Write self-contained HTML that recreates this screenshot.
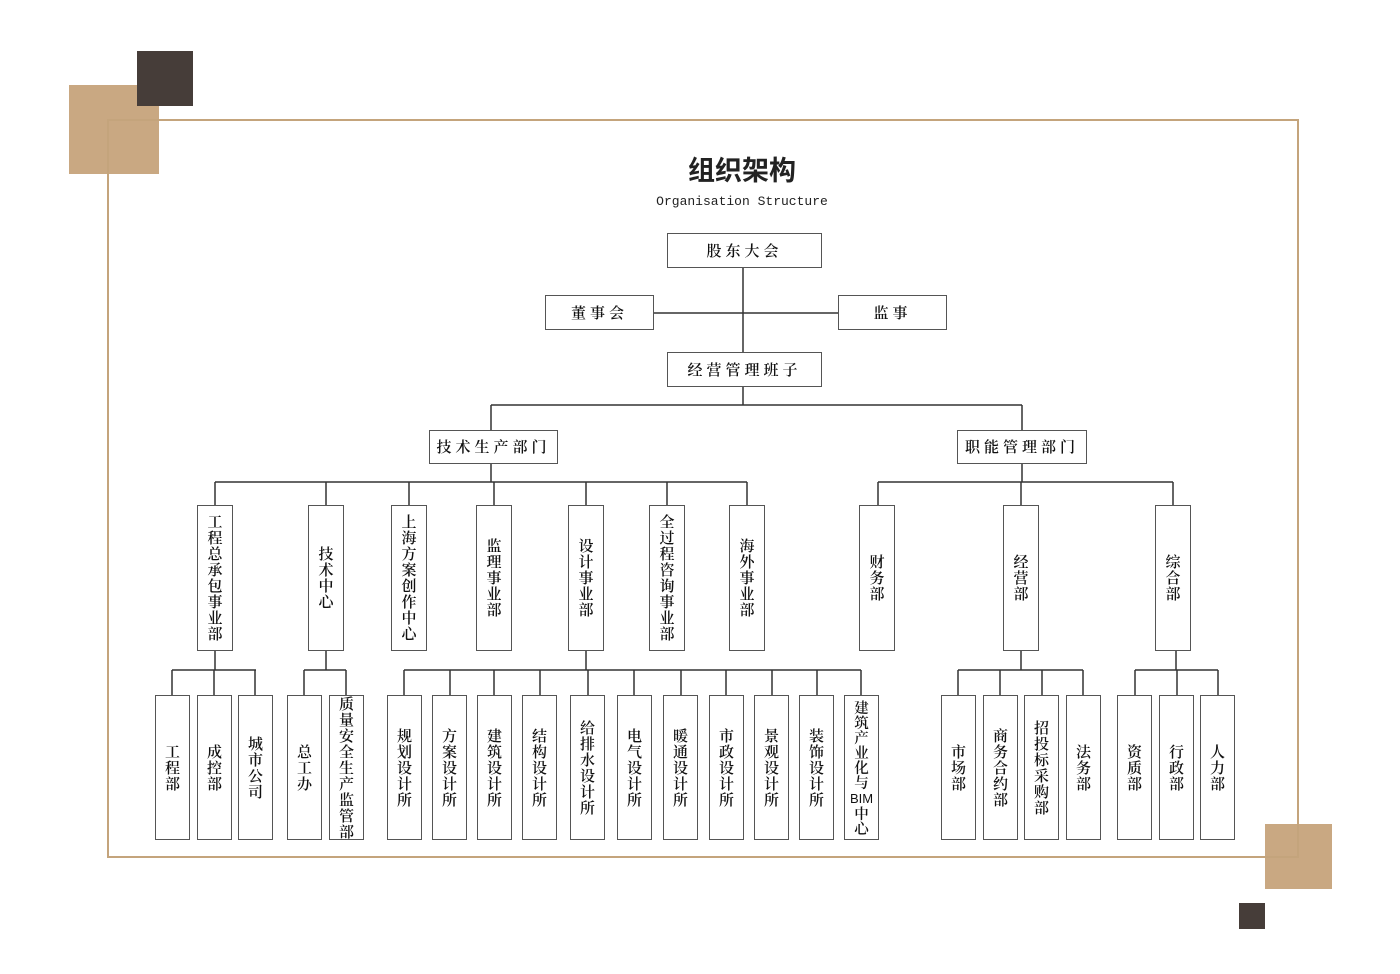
<!DOCTYPE html>
<html><head><meta charset="utf-8"><style>
html,body{margin:0;padding:0;background:#fff}
#c{position:relative;width:1400px;height:974px;overflow:hidden;background:#fff}
.b{position:absolute;box-sizing:border-box;border:1.5px solid #555;background:#fff;display:flex;align-items:center;justify-content:center;text-align:center;font-family:"Noto Serif CJK SC","Liberation Serif",serif;font-weight:600;font-size:15px;line-height:16px;color:#111}
.h{letter-spacing:4px;font-size:15px}
.v{width:36px;top:505px;height:146px}
.w{width:35px;top:695px;height:145px}
svg{position:absolute;left:0;top:0}
</style></head><body><div id="c">
<div style="position:absolute;left:69px;top:85px;width:90px;height:89px;background:#c9a882"></div>
<div style="position:absolute;left:137px;top:51px;width:56px;height:55px;background:#463d39"></div>
<div style="position:absolute;left:1265px;top:824px;width:67px;height:65px;background:#c9a882"></div>
<div style="position:absolute;left:1239px;top:903px;width:26px;height:26px;background:#463d39"></div>
<div style="position:absolute;left:107px;top:119px;width:1192px;height:739px;box-sizing:border-box;border:2px solid #c4a47c"></div>
<div style="position:absolute;left:542px;top:152px;width:400px;text-align:center;font-family:'Noto Sans CJK SC',sans-serif;font-weight:bold;font-size:27px;color:#222;line-height:34px">组织架构</div>
<div style="position:absolute;left:542px;top:194px;width:400px;text-align:center;font-family:'Liberation Mono',monospace;font-size:13px;color:#222;line-height:16px">Organisation Structure</div>
<svg width="1400" height="974" stroke="#333" stroke-width="1.5" fill="none">
<path d="M743 268V352M654 313H838M743 387V405M491 405H1022M491 405V430M1022 405V430"/>
<path d="M491 464V482M215 482H747M215 482V505M326 482V505M409 482V505M494 482V505M586 482V505M667 482V505M747 482V505"/>
<path d="M1022 464V482M878 482H1173M878 482V505M1021 482V505M1173 482V505"/>
<path d="M215 650V670M172 670H256M172 670V695M214 670V695M255 670V695"/>
<path d="M326 650V670M304 670H346M304 670V695M346 670V695"/>
<path d="M586 650V670M404 670H861M404 670V695M450 670V695M494 670V695M540 670V695M588 670V695M634 670V695M681 670V695M726 670V695M772 670V695M817 670V695M861 670V695"/>
<path d="M1021 650V670M958 670H1083M958 670V695M1000 670V695M1042 670V695M1083 670V695"/>
<path d="M1176 650V670M1135 670H1218M1135 670V695M1177 670V695M1218 670V695"/>
</svg>
<div class="b h" style="left:667px;top:233px;width:155px;height:35px">股东大会</div>
<div class="b h" style="left:545px;top:295px;width:109px;height:35px">董事会</div>
<div class="b h" style="left:838px;top:295px;width:109px;height:35px">监事</div>
<div class="b h" style="left:667px;top:352px;width:155px;height:35px">经营管理班子</div>
<div class="b h" style="left:429px;top:430px;width:129px;height:34px">技术生产部门</div>
<div class="b h" style="left:957px;top:430px;width:130px;height:34px">职能管理部门</div>

<div class="b v" style="left:197px">工<br>程<br>总<br>承<br>包<br>事<br>业<br>部</div>
<div class="b v" style="left:308px">技<br>术<br>中<br>心</div>
<div class="b v" style="left:391px">上<br>海<br>方<br>案<br>创<br>作<br>中<br>心</div>
<div class="b v" style="left:476px">监<br>理<br>事<br>业<br>部</div>
<div class="b v" style="left:568px">设<br>计<br>事<br>业<br>部</div>
<div class="b v" style="left:649px">全<br>过<br>程<br>咨<br>询<br>事<br>业<br>部</div>
<div class="b v" style="left:729px">海<br>外<br>事<br>业<br>部</div>
<div class="b v" style="left:859px">财<br>务<br>部</div>
<div class="b v" style="left:1003px">经<br>营<br>部</div>
<div class="b v" style="left:1155px">综<br>合<br>部</div>

<div class="b w" style="left:155px">工<br>程<br>部</div>
<div class="b w" style="left:197px">成<br>控<br>部</div>
<div class="b w" style="left:238px">城<br>市<br>公<br>司</div>
<div class="b w" style="left:287px">总<br>工<br>办</div>
<div class="b w" style="left:329px">质<br>量<br>安<br>全<br>生<br>产<br>监<br>管<br>部</div>
<div class="b w" style="left:387px">规<br>划<br>设<br>计<br>所</div>
<div class="b w" style="left:432px">方<br>案<br>设<br>计<br>所</div>
<div class="b w" style="left:477px">建<br>筑<br>设<br>计<br>所</div>
<div class="b w" style="left:522px">结<br>构<br>设<br>计<br>所</div>
<div class="b w" style="left:570px">给<br>排<br>水<br>设<br>计<br>所</div>
<div class="b w" style="left:617px">电<br>气<br>设<br>计<br>所</div>
<div class="b w" style="left:663px">暖<br>通<br>设<br>计<br>所</div>
<div class="b w" style="left:709px">市<br>政<br>设<br>计<br>所</div>
<div class="b w" style="left:754px">景<br>观<br>设<br>计<br>所</div>
<div class="b w" style="left:799px">装<br>饰<br>设<br>计<br>所</div>
<div class="b w" style="left:844px;font-size:14.5px;line-height:15px"><div>建<br>筑<br>产<br>业<br>化<br>与<br><span style="font-family:'Liberation Sans',sans-serif;font-weight:normal;font-size:13px">BIM</span><br>中<br>心</div></div>
<div class="b w" style="left:941px">市<br>场<br>部</div>
<div class="b w" style="left:983px">商<br>务<br>合<br>约<br>部</div>
<div class="b w" style="left:1024px">招<br>投<br>标<br>采<br>购<br>部</div>
<div class="b w" style="left:1066px">法<br>务<br>部</div>
<div class="b w" style="left:1117px">资<br>质<br>部</div>
<div class="b w" style="left:1159px">行<br>政<br>部</div>
<div class="b w" style="left:1200px">人<br>力<br>部</div>
</div></body></html>
